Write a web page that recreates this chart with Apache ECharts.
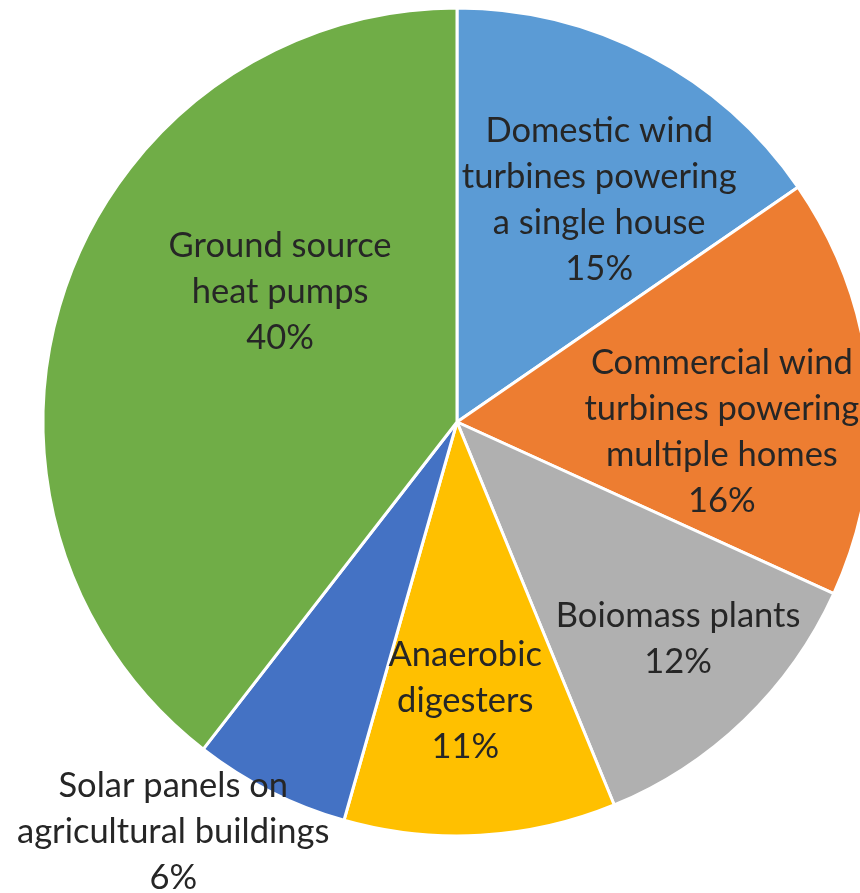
<!DOCTYPE html>
<html><head><meta charset="utf-8">
<script src="https://cdn.jsdelivr.net/npm/echarts@6/dist/echarts.min.js"></script>
<style>html,body{margin:0;padding:0;background:#fff}#c{width:860px;height:893px}</style>
</head><body><div id="c"></div>
<script>
const categories = ['Domestic wind\nturbines powering\na single house', 'Commercial wind\nturbines powering\nmultiple homes', 'Boiomass plants', 'Anaerobic\ndigesters', 'Solar panels on\nagricultural buildings', 'Ground source\nheat pumps'];
const values = [15.4, 16.4, 12.0, 10.6, 6.1, 39.5];
const colors = ['#5B9BD5', '#ED7D31', '#B0B0B0', '#FFC000', '#4472C4', '#70AD47'];
// label anchor: fraction of radius and angle (deg, clockwise from top)
const labelFrac = [0.641, 0.640, 0.745, 0.669, 1.201, 0.533];
const labelAng = [32.4, 91.7, 134.2, 178.3, 214.8, 306.7];

const CX = 457, CY = 422, R = 414, TEXT_DY = 2;
const chart = echarts.init(document.getElementById('c'), null, {renderer: 'canvas'});
chart.setOption({
  animation: false,
  backgroundColor: '#ffffff',
  series: [{
    type: 'pie',
    center: [CX, CY],
    radius: [0, R],
    startAngle: 90,
    clockwise: true,
    data: categories.map((n, i) => ({name: n, value: values[i], itemStyle: {color: colors[i]}})),
    itemStyle: {borderColor: '#ffffff', borderWidth: 3},
    label: {
      show: true,
      position: 'inside',
      formatter: p => p.name + '\n' + Math.round(p.percent) + '%',
      fontFamily: 'Lato',
      fontSize: 34.5,
      lineHeight: 46,
      color: '#262626',
      align: 'center',
      verticalAlign: 'middle'
    },
    labelLine: {show: false},
    labelLayout: p => {
      const i = p.dataIndex;
      const a = labelAng[i] * Math.PI / 180;
      return {x: CX + R * labelFrac[i] * Math.sin(a), y: CY + TEXT_DY - R * labelFrac[i] * Math.cos(a), align: 'center', verticalAlign: 'middle'};
    }
  }]
});
</script></body></html>
